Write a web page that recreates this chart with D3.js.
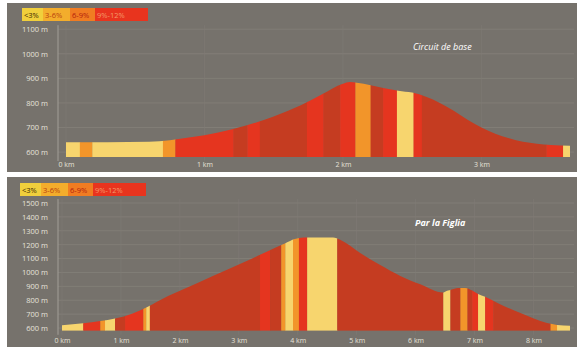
<!DOCTYPE html>
<html><head><meta charset="utf-8">
<script src="https://cdn.jsdelivr.net/npm/d3@7"></script>
<style>html,body{margin:0;padding:0;background:#fff}svg{display:block}</style>
</head><body>
<svg id="c" width="581" height="350"></svg>
<script>
// ---- data ----
const gradeLabels = ["<3%", "3-6%", "6-9%", "9%-12%"];
const gradeColors = ["#f7d56e", "#f2952a", "#e5351f", "#c53c21"];

// Circuit de base
const topTitle = "Circuit de base";
const topKm   = [0, 0.3, 0.6, 0.75, 0.9, 1.1, 1.3, 1.5, 1.7, 1.85, 2.0, 2.05, 2.1, 2.2, 2.3, 2.4, 2.5, 2.6, 2.7, 2.8, 2.9, 3.0, 3.1, 3.2, 3.3, 3.4, 3.5, 3.64];
const topElev = [640, 640, 642, 648, 660, 680, 708, 745, 792, 835, 878, 885, 882, 872, 860, 850, 842, 825, 800, 768, 732, 700, 675, 656, 642, 634, 629, 626];
const topSegStart = [0, 0.10, 0.19, 0.70, 0.79, 1.21, 1.31, 1.40, 1.74, 1.86, 1.98, 2.09, 2.20, 2.29, 2.39, 2.51, 2.57, 3.47, 3.59];
const topSegEnd   = [0.10, 0.19, 0.70, 0.79, 1.21, 1.31, 1.40, 1.74, 1.86, 1.98, 2.09, 2.20, 2.29, 2.39, 2.51, 2.57, 3.47, 3.59, 3.64];
const topSegGrade = [0, 1, 0, 1, 2, 3, 2, 3, 2, 3, 2, 1, 3, 2, 0, 2, 3, 2, 0];
const topYTicks = [600, 700, 800, 900, 1000, 1100];
const topXTicks = [0, 1, 2, 3];

// Par la Figlia
const botTitle = "Par la Figlia";
const botKm   = [0, 0.36, 0.65, 0.9, 1.2, 1.44, 1.8, 2.3, 2.8, 3.2, 3.5, 3.79, 3.95, 4.1, 4.6, 4.72, 5.06, 5.4, 5.74, 6.08, 6.47, 6.5, 6.6, 6.72, 6.84, 6.96, 7.06, 7.18, 7.39, 7.78, 8.23, 8.4, 8.62];
const botElev = [620, 634, 650, 668, 705, 750, 830, 925, 1020, 1095, 1155, 1210, 1240, 1252, 1252, 1235, 1140, 1053, 975, 915, 855, 862, 875, 888, 888, 870, 845, 825, 780, 708, 636, 622, 616];
const botSegStart = [0, 0.36, 0.65, 0.73, 0.90, 1.07, 1.38, 1.43, 1.49, 3.36, 3.53, 3.72, 3.79, 3.92, 4.02, 4.16, 4.67, 6.47, 6.59, 6.76, 6.88, 6.96, 7.06, 7.18, 7.32, 8.29, 8.40];
const botSegEnd   = [0.36, 0.65, 0.73, 0.90, 1.07, 1.38, 1.43, 1.49, 3.36, 3.53, 3.72, 3.79, 3.92, 4.02, 4.16, 4.67, 6.47, 6.59, 6.76, 6.88, 6.96, 7.06, 7.18, 7.32, 8.29, 8.40, 8.62];
const botSegGrade = [0, 2, 1, 0, 3, 2, 1, 0, 3, 2, 3, 1, 0, 1, 2, 0, 3, 0, 3, 1, 3, 2, 0, 2, 3, 1, 0];
const botYTicks = [600, 700, 800, 900, 1000, 1100, 1200, 1300, 1400, 1500];
const botXTicks = [0, 1, 2, 3, 4, 5, 6, 7, 8];

// ---- drawing ----
const svg = d3.select("#c");
const FONT = "'Open Sans', 'DejaVu Sans', sans-serif";

function panel(cfg, idx) {
  const g = svg.append("g");
  g.append("rect").attr("x", 7).attr("y", cfg.py).attr("width", 570).attr("height", cfg.ph).attr("fill", "#76726c");

  const x = d3.scaleLinear().domain([0, cfg.km[cfg.km.length - 1]]).range(cfg.xr);
  const y = d3.scaleLinear().domain(cfg.yd).range(cfg.yr);
  const base = y(cfg.yd[0]);

  // grid
  g.append("g").selectAll("line").data(cfg.yTicks).join("line")
    .attr("x1", 58).attr("x2", 574).attr("y1", d => y(d)).attr("y2", d => y(d))
    .attr("stroke", "#86827b").attr("stroke-width", 0.7);
  g.append("g").selectAll("line").data(cfg.xTicks).join("line")
    .attr("x1", d => x(d)).attr("x2", d => x(d)).attr("y1", cfg.yr[1] - 4).attr("y2", base + 4)
    .attr("stroke", "#7f7b75").attr("stroke-width", 0.6);

  // y axis
  const ya = d3.axisLeft(y).tickValues(cfg.yTicks).tickSize(0).tickPadding(0).tickFormat(d => d + " m");
  const yg = g.append("g").attr("transform", "translate(48,0)").call(ya);
  yg.select(".domain").remove();
  yg.selectAll("text").attr("fill", "#e6e2da").attr("font-size", 7.5).attr("font-family", FONT);
  g.append("line").attr("x1", 58).attr("x2", 58).attr("y1", cfg.yr[1] - 4).attr("y2", base + 4)
    .attr("stroke", "#a29e97").attr("stroke-width", 1);

  // x axis
  const xa = d3.axisBottom(x).tickValues(cfg.xTicks).tickSize(0).tickPadding(0).tickFormat(d => d + " km");
  const xg = g.append("g").attr("transform", `translate(0,${cfg.xLabY})`).call(xa);
  xg.select(".domain").remove();
  xg.selectAll("text").attr("fill", "#e6e2da").attr("font-size", 7).attr("font-family", FONT);

  // profile area + colored grade segments clipped to it
  const pts = cfg.km.map((k, i) => [k, cfg.elev[i]]);
  const area = d3.area().x(d => x(d[0])).y0(base).y1(d => y(d[1])).curve(d3.curveMonotoneX);
  const cid = "clip" + idx;
  svg.append("clipPath").attr("id", cid).append("path").attr("d", area(pts));
  const segs = cfg.s0.map((s, i) => ({ s, e: cfg.s1[i], g: cfg.sg[i] }));
  g.append("g").attr("clip-path", `url(#${cid})`).selectAll("rect").data(segs).join("rect")
    .attr("x", d => x(d.s)).attr("width", d => x(d.e) - x(d.s) + 0.3)
    .attr("y", cfg.yr[1] - 10).attr("height", base - cfg.yr[1] + 10)
    .attr("fill", d => gradeColors[d.g]);

  // legend
  const lw = [21, 27, 25, 53];
  let lx = cfg.lx;
  const lg = g.append("g");
  gradeLabels.forEach((lab, i) => {
    lg.append("rect").attr("x", lx).attr("y", cfg.ly).attr("width", lw[i]).attr("height", 13)
      .attr("fill", ["#f0cf3c", "#f3ad2c", "#f07c22", "#e8341e"][i]);
    lg.append("text").attr("x", lx + 2).attr("y", cfg.ly + 9.5).text(lab)
      .attr("font-size", 7.5).attr("font-family", FONT)
      .attr("fill", ["#3a2a00", "#b8400e", "#b3200c", "#f49a6a"][i]);
    lx += lw[i];
  });

  // title
  g.append("text").attr("x", cfg.tx).attr("y", cfg.ty).text(cfg.title)
    .attr("fill", "#ffffff").attr("font-size", 9).attr("font-style", "italic")
    .attr("font-weight", cfg.tw).attr("font-family", FONT);
}

panel({ py: 3, ph: 169, km: topKm, elev: topElev, s0: topSegStart, s1: topSegEnd, sg: topSegGrade,
  xr: [66, 570], yd: [580, 1100], yr: [157, 29.2], yTicks: topYTicks, xTicks: topXTicks, xLabY: 162.5,
  lx: 22, ly: 8, title: topTitle, tx: 413, ty: 50, tw: "normal" }, 0);

panel({ py: 177, ph: 170, km: botKm, elev: botElev, s0: botSegStart, s1: botSegEnd, sg: botSegGrade,
  xr: [62, 570], yd: [580, 1500], yr: [330.8, 203], yTicks: botYTicks, xTicks: botXTicks, xLabY: 338.5,
  lx: 20, ly: 183, title: botTitle, tx: 415, ty: 226, tw: "bold" }, 1);
</script>
</body></html>
